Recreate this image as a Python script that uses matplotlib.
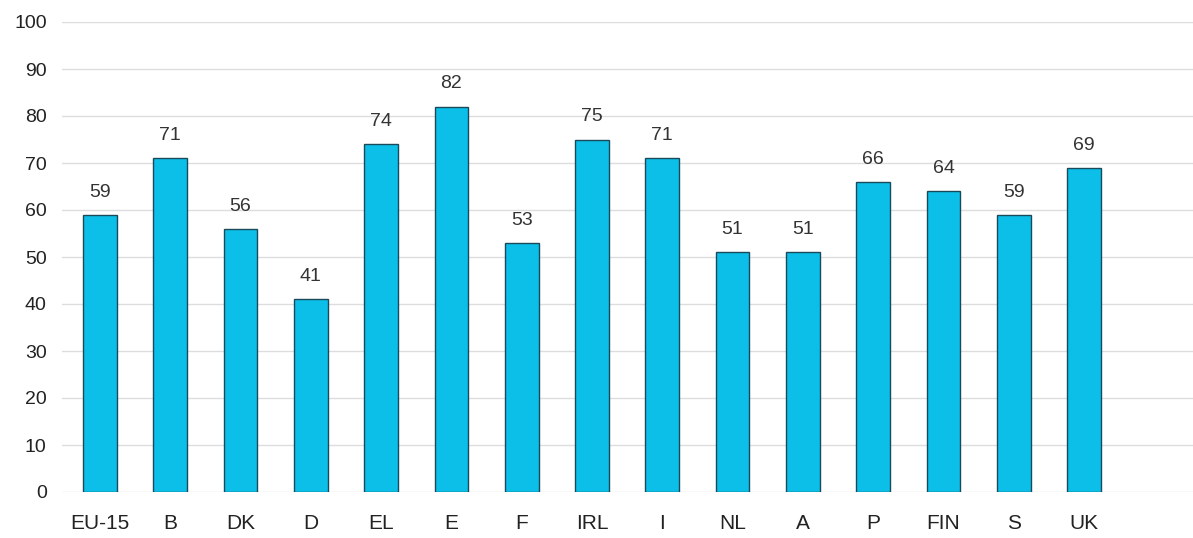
import matplotlib.pyplot as plt

plt.rcParams['font.family'] = ['Liberation Sans', 'DejaVu Sans']

countries = ['EU-15', 'B', 'DK', 'D', 'EL', 'E', 'F', 'IRL', 'I', 'NL', 'A', 'P', 'FIN', 'S', 'UK']
values = [59, 71, 56, 41, 74, 82, 53, 75, 71, 51, 51, 66, 64, 59, 69]
yticks = [0, 10, 20, 30, 40, 50, 60, 70, 80, 90, 100]

fig = plt.figure(figsize=(11.93, 5.38), dpi=100)
ax = fig.add_axes([62 / 1193, 1 - 492 / 538, 1 - 62 / 1193, 470 / 538])

x = list(range(len(countries)))
ax.bar(x, values, width=0.48, color='#0cbfe9', edgecolor='#1a4a5a', linewidth=1.0, zorder=3)

# value labels above each bar
for xi, v in zip(x, values):
    ax.text(xi, v + 3, str(v), ha='center', va='bottom', fontsize=14, color='#333333')

ax.set_ylim(0, 100)
ax.set_xlim(-0.54, 15.55)
ax.set_yticks(yticks)
ax.set_xticks(x)
ax.set_xticklabels(countries, fontsize=15, color='#222222')
ax.tick_params(axis='y', labelsize=14, labelcolor='#222222', length=0, pad=11)
ax.tick_params(axis='x', length=0, pad=16)
ax.grid(axis='y', color='#dddddd', linewidth=1, zorder=0)
for s in ax.spines.values():
    s.set_visible(False)

fig.savefig('out.png', dpi=100)
